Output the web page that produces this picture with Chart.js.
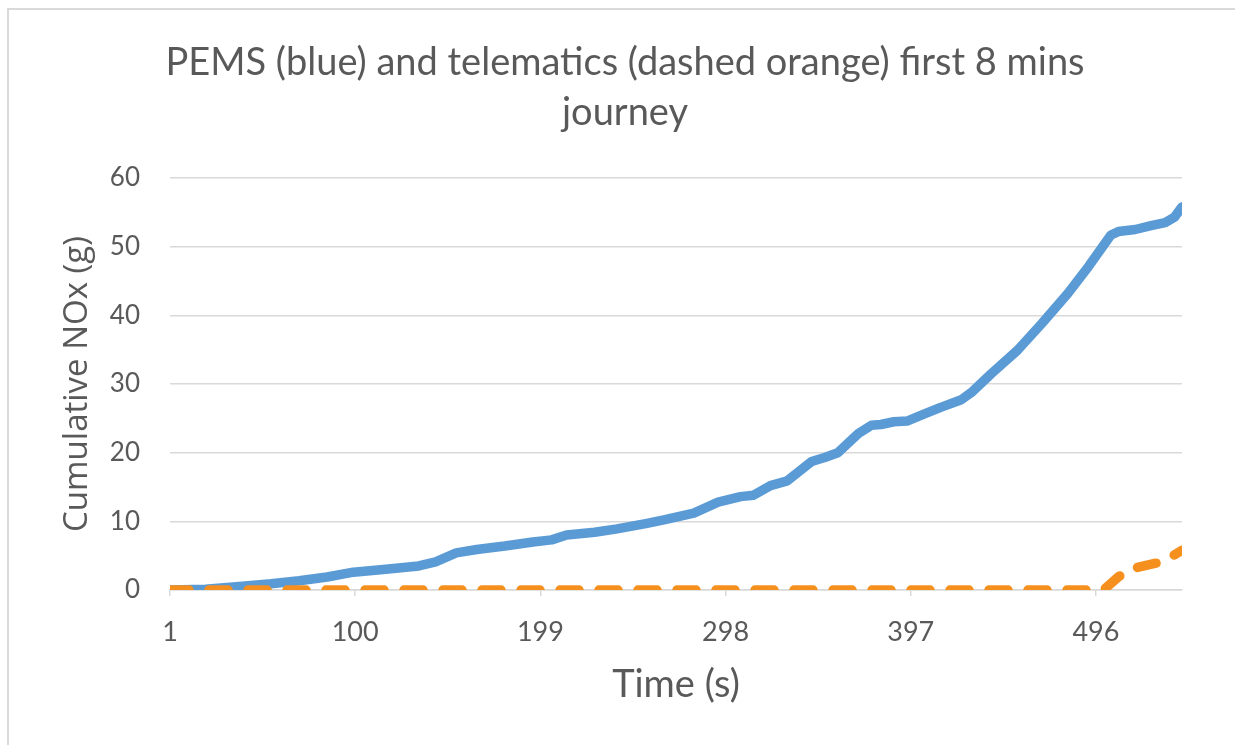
<!DOCTYPE html>
<html>
<head>
<meta charset="utf-8">
<script src="https://cdn.jsdelivr.net/npm/chart.js@4/dist/chart.umd.min.js"></script>
<style>
  body { margin: 0; background: #fff; overflow: hidden; }
  #frame { position: absolute; left: 7px; top: 8px; width: 1400px; height: 900px;
           border-left: 2px solid #d9d9d9; border-top: 2px solid #d9d9d9; }
  #chart { position: absolute; left: 0; top: 0; }
</style>
</head>
<body>
<div id="frame"></div>
<canvas id="chart" width="1235" height="745"></canvas>
<script>
// values
const xTicks = [1, 100, 199, 298, 397, 496];
const yTicks = [0, 10, 20, 30, 40, 50, 60];

const pemsTime = [1, 20, 38, 55, 70, 85, 99, 115, 134, 143, 154, 165, 180, 195, 205, 213, 228, 240,
    256, 265, 281, 294, 306, 313, 322, 331, 344, 351, 358, 369, 376, 381, 388, 395, 404, 413, 424,
    430, 440, 454, 467, 481, 492, 504, 508, 517, 526, 533, 538, 542];
const pemsNOx = [0, 0.1, 0.5, 0.9, 1.35, 1.9, 2.6, 3.0, 3.5, 4.1, 5.4, 5.9, 6.4, 7.0, 7.3, 8.0, 8.4, 8.9,
    9.7, 10.2, 11.2, 12.8, 13.6, 13.8, 15.2, 15.9, 18.7, 19.3, 20.0, 22.8, 24.0, 24.1, 24.5, 24.6, 25.6, 26.6, 27.7,
    28.9, 31.5, 34.9, 38.8, 43.2, 47.1, 51.7, 52.2, 52.5, 53.1, 53.5, 54.3, 55.8];

const telTime = [1, 500, 508, 513, 517, 528, 535, 542];
const telNOx = [0, 0, 1.9, 2.9, 3.2, 3.9, 4.6, 5.8];

const textColor = '#595959';
const gridColor = '#d9d9d9';

function pairs(xs, ys) {
    return xs.map((x, i) => ({ x: x, y: ys[i] }));
}

const ctx = document.getElementById('chart').getContext('2d');
new Chart(ctx, {
    type: 'line',
    data: {
        datasets: [{
            label: 'Telematics',
            data: pairs(telTime, telNOx),
            borderColor: '#f5901f',
            borderWidth: 9.5,
            borderDash: [19, 20],
            borderCapStyle: 'round',
            borderJoinStyle: 'round',
            pointRadius: 0,
            tension: 0,
            order: 0
        }, {
            label: 'PEMS',
            data: pairs(pemsTime, pemsNOx),
            borderColor: '#5b9bd5',
            borderWidth: 9.5,
            borderCapStyle: 'round',
            borderJoinStyle: 'round',
            pointRadius: 0,
            tension: 0,
            order: 1
        }]
    },
    options: {
        responsive: false,
        animation: false,
        layout: { padding: { left: 15, right: 0, top: 0, bottom: 0 } },
        plugins: {
            legend: { display: false },
            tooltip: { enabled: false },
            title: {
                display: true,
                text: ['PEMS (blue) and telematics (dashed orange) first 8 mins', 'journey'],
                color: textColor,
                font: { family: 'Lato', size: 38, weight: 'normal', lineHeight: 50 / 38 },
                padding: { top: 38, bottom: 40 }
            }
        },
        scales: {
            x: {
                type: 'linear',
                min: 1,
                max: 542,
                afterFit: s => { s.height = 155; },
                afterBuildTicks: s => { s.ticks = xTicks.map(v => ({ value: v })); },
                grid: { drawOnChartArea: false, drawTicks: true, tickLength: 6, color: gridColor, lineWidth: 1.5 },
                border: { display: true, color: gridColor, width: 1.5 },
                ticks: {
                    color: textColor,
                    font: { family: 'Lato', size: 27 },
                    padding: 20,
                    maxRotation: 0,
                    autoSkip: false
                },
                title: {
                    display: true,
                    text: 'Time (s)',
                    color: textColor,
                    font: { family: 'Lato', size: 38, lineHeight: 1.2 },
                    padding: { top: 0, bottom: 37 }
                }
            },
            y: {
                min: 0,
                max: 60,
                afterFit: s => { s.width = 155; },
                afterBuildTicks: s => { s.ticks = yTicks.map(v => ({ value: v })); },
                grid: { drawTicks: false, color: gridColor, lineWidth: 1.5 },
                border: { display: false },
                ticks: {
                    color: textColor,
                    font: { family: 'Lato', size: 26 },
                    padding: 30
                },
                title: {
                    display: true,
                    text: 'Cumulative NOx (g)',
                    color: textColor,
                    font: { family: 'Open Sans', size: 33, lineHeight: 1.2 },
                    padding: { top: 43, bottom: 0 }
                }
            },
            // empty right-hand axis that only reserves the right margin
            yRight: {
                position: 'right',
                afterFit: s => { s.width = 53; },
                grid: { display: false, drawOnChartArea: false },
                border: { display: false },
                ticks: { display: false }
            }
        }
    }
});
</script>
</body>
</html>
